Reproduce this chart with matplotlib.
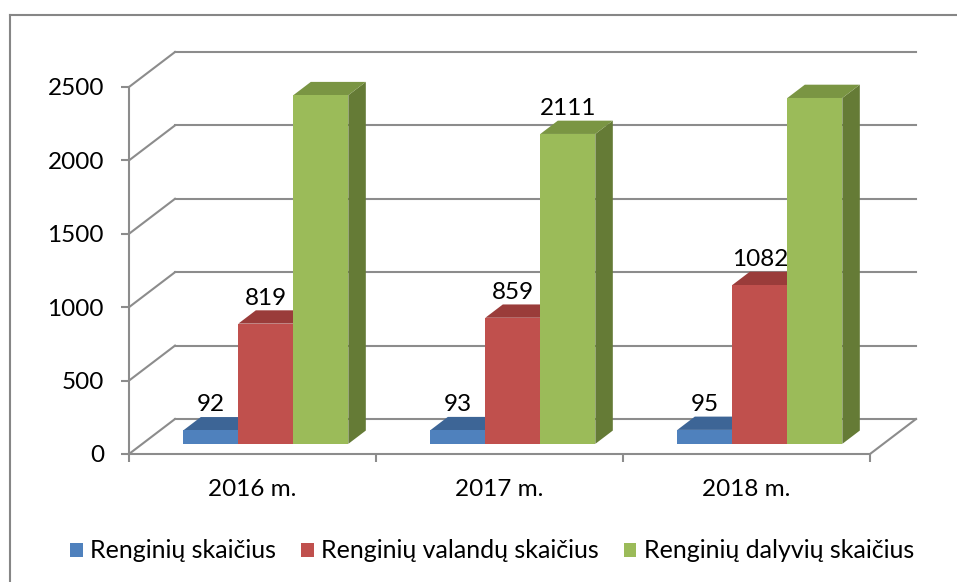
import matplotlib
matplotlib.use('Agg')
import matplotlib.pyplot as plt
from matplotlib.patches import Polygon, Patch
from matplotlib.lines import Line2D

# data
years = ['2016 m.', '2017 m.', '2018 m.']
series = ['Renginių skaičius', 'Renginių valandų skaičius', 'Renginių dalyvių skaičius']
events = [92, 93, 95]
hours = [819, 859, 1082]
participants = [2375, 2111, 2356]
yticks = [0, 500, 1000, 1500, 2000, 2500]

front_col = ['#4F81BD', '#C0504D', '#9BBB59']
top_col = ['#3D6596', '#9A3C3A', '#7A9543']
side_col = ['#34557F', '#833230', '#657B36']
grid_col = '#8C8C8C'

plt.rcParams['font.family'] = ['Lato', 'DejaVu Sans']
fs = 17.5

W, H = 957, 582
fig = plt.figure(figsize=(W / 100, H / 100), dpi=100)
ax = fig.add_axes([129 / W, 1 - 454 / H, 741 / W, 367 / H])
ax.set_xlim(0, 3)
ax.set_ylim(0, 2500)
ax.patch.set_visible(False)

# oblique depth vector (data units) for the fake 3d look
ddx = 46 / 247
ddy = 35 / (367 / 2500)

# walls: back gridlines + left side diagonals
for v in yticks:
    ax.plot([ddx, 3 + ddx], [v + ddy, v + ddy], color=grid_col, lw=1.5, zorder=1, clip_on=False)
    ax.plot([0, ddx], [v, v + ddy], color=grid_col, lw=1.5, zorder=1, clip_on=False)
ax.plot([3, 3 + ddx], [0, ddy], color=grid_col, lw=1.5, zorder=1, clip_on=False)

# bars
w = 55 / 247
g = (1 - 3 * w) / 2
f0, f1 = 0.29, 0.67
ox, oy = f0 * ddx, f0 * ddy
bx, by = f1 * ddx, f1 * ddy
for i in range(len(years)):
    for j, vals in enumerate([events, hours, participants]):
        v = vals[i]
        x0 = i + g + j * w
        side = [(x0 + w + ox, oy), (x0 + w + bx, by), (x0 + w + bx, by + v), (x0 + w + ox, oy + v)]
        top = [(x0 + ox, oy + v), (x0 + w + ox, oy + v), (x0 + w + bx, by + v), (x0 + bx, by + v)]
        front = [(x0 + ox, oy), (x0 + w + ox, oy), (x0 + w + ox, oy + v), (x0 + ox, oy + v)]
        ax.add_patch(Polygon(side, closed=True, facecolor=side_col[j], edgecolor='none', zorder=3, clip_on=False))
        ax.add_patch(Polygon(top, closed=True, facecolor=top_col[j], edgecolor='none', zorder=3, clip_on=False))
        ax.add_patch(Polygon(front, closed=True, facecolor=front_col[j], edgecolor='none', zorder=3, clip_on=False))
        ax.annotate(str(v), (x0 + ox + w / 2, by + v), xytext=(0, 4), textcoords='offset points',
                    ha='center', va='baseline', fontsize=fs, zorder=5)

# axes
for s in ['top', 'right']:
    ax.spines[s].set_visible(False)
for s in ['left', 'bottom']:
    ax.spines[s].set_color(grid_col)
    ax.spines[s].set_linewidth(1.5)
ax.set_yticks(yticks)
ax.tick_params(axis='y', direction='out', length=6, width=1.5, color=grid_col, pad=12, labelsize=fs)
ax.set_xticks([0, 1, 2, 3])
ax.set_xticklabels([])
ax.set_xticks([0.5, 1.5, 2.5], minor=True)
ax.set_xticklabels(years, minor=True)
ax.tick_params(axis='x', which='major', direction='out', length=6, width=1.5, color=grid_col)
ax.tick_params(axis='x', which='minor', length=0, pad=18, labelsize=fs)

# legend
handles = [Patch(facecolor=c, edgecolor='none', label=s) for c, s in zip(front_col, series)]
fig.legend(handles=handles, loc='center', bbox_to_anchor=(492 / W, 1 - 551 / H), ncol=3,
           frameon=False, handlelength=0.5, handleheight=0.5, handletextpad=0.3,
           columnspacing=1.0, fontsize=18)

# chart border (cut off at right/bottom)
fig.add_artist(Line2D([10 / W, 1], [1 - 15 / H, 1 - 15 / H], color='#868686', lw=1.5, transform=fig.transFigure))
fig.add_artist(Line2D([10 / W, 10 / W], [0, 1 - 15 / H], color='#868686', lw=1.5, transform=fig.transFigure))

fig.savefig('out.png', dpi=100)
